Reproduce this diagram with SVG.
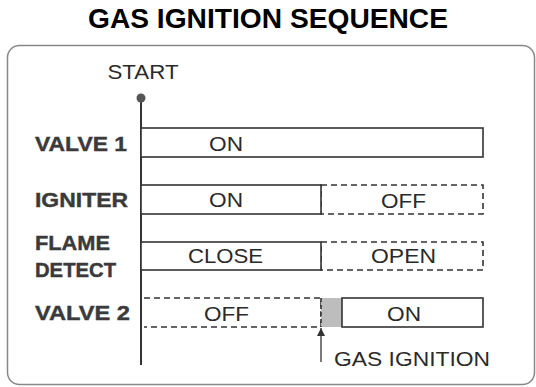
<svg xmlns="http://www.w3.org/2000/svg" width="536" height="387" viewBox="0 0 536 387">
<style>
.lbl{font-family:"Liberation Sans",Arial,sans-serif;font-weight:bold;font-size:20px;fill:#3a3a3a;stroke:#3a3a3a;stroke-width:0.4}
.txt{font-family:"Liberation Sans",Arial,sans-serif;font-size:21px;fill:#2a2a2a;text-anchor:middle}
.solid{fill:#fff;stroke:#333;stroke-width:1.6}
.dash{fill:none;stroke:#333;stroke-width:1.6;stroke-dasharray:6 4}
</style>
<defs>
<marker id="ah" viewBox="0 0 10 10" refX="10" refY="5" markerWidth="8" markerHeight="8" orient="auto" markerUnits="userSpaceOnUse">
<path d="M0,0 L10,5 L0,10 z" fill="#333"/>
</marker>
</defs>
<rect width="536" height="387" fill="#fff"/>
<g id="title">
<text x="268" y="28" text-anchor="middle" font-family="Liberation Sans,Arial,sans-serif" font-weight="bold" font-size="27" fill="#000" textLength="360" lengthAdjust="spacingAndGlyphs">GAS IGNITION SEQUENCE</text>
</g>
<g id="frame">
<rect x="7.5" y="45.5" width="527" height="339" rx="12" fill="none" stroke="#888" stroke-width="1.5"/>
</g>
<g id="start">
<text class="txt" x="143" y="79" textLength="71" lengthAdjust="spacingAndGlyphs">START</text>
<line x1="141" y1="98" x2="141" y2="365" stroke="#333" stroke-width="2"/>
<circle cx="141" cy="98" r="4.5" fill="#555"/>
</g>
<g id="valve1">
<text class="lbl" x="35" y="151" textLength="92" lengthAdjust="spacingAndGlyphs">VALVE 1</text>
<rect class="solid" x="141" y="128" width="342" height="29"/>
<text class="txt" x="226" y="151" textLength="34" lengthAdjust="spacingAndGlyphs">ON</text>
</g>
<g id="igniter">
<text class="lbl" x="35" y="207" textLength="93" lengthAdjust="spacingAndGlyphs">IGNITER</text>
<rect class="dash" x="321" y="185" width="162" height="29"/>
<rect class="solid" x="141" y="185" width="180" height="29"/>
<text class="txt" x="226" y="207" textLength="34" lengthAdjust="spacingAndGlyphs">ON</text>
<text class="txt" x="403.5" y="208" textLength="45" lengthAdjust="spacingAndGlyphs">OFF</text>
</g>
<g id="flame-detect">
<text class="lbl" x="35" y="250" textLength="75" lengthAdjust="spacingAndGlyphs">FLAME</text>
<text class="lbl" x="35" y="277" textLength="81" lengthAdjust="spacingAndGlyphs">DETECT</text>
<rect class="dash" x="321" y="242" width="162" height="28"/>
<rect class="solid" x="141" y="242" width="180" height="28"/>
<text class="txt" x="225.5" y="263" textLength="75" lengthAdjust="spacingAndGlyphs">CLOSE</text>
<text class="txt" x="403.5" y="263" textLength="65" lengthAdjust="spacingAndGlyphs">OPEN</text>
</g>
<g id="valve2">
<text class="lbl" x="35" y="320" textLength="95" lengthAdjust="spacingAndGlyphs">VALVE 2</text>
<path class="dash" d="M144,298 H321 V327 H144"/>
<rect x="321" y="298" width="21" height="29" fill="#bdbdbd"/>
<line x1="321" y1="298" x2="321" y2="327" stroke="#333" stroke-width="1.6" stroke-dasharray="4 3"/>
<rect class="solid" x="342" y="298" width="141" height="29"/>
<text class="txt" x="226.5" y="321" textLength="45" lengthAdjust="spacingAndGlyphs">OFF</text>
<text class="txt" x="404" y="321" textLength="34" lengthAdjust="spacingAndGlyphs">ON</text>
</g>
<g id="connectors">
<line x1="321" y1="362" x2="321" y2="328" stroke="#333" stroke-width="1.3" marker-end="url(#ah)"/>
</g>
<g id="gas-ignition">
<text x="334" y="366" font-family="Liberation Sans,Arial,sans-serif" font-size="21" fill="#2a2a2a" textLength="156" lengthAdjust="spacingAndGlyphs">GAS IGNITION</text>
</g>
</svg>
